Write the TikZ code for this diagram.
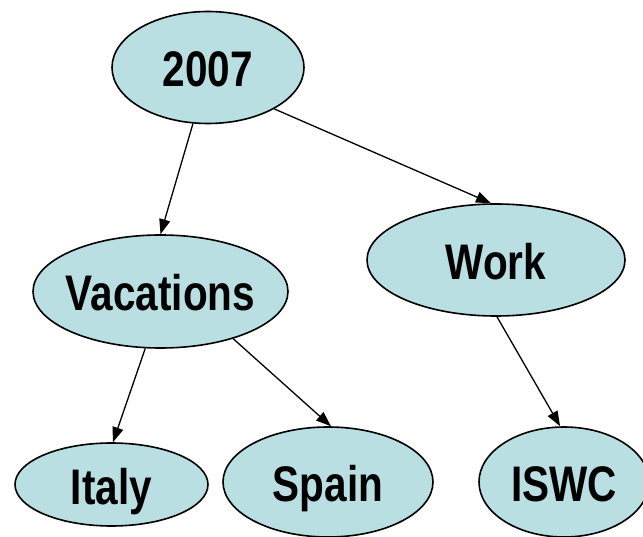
\documentclass[tikz,border=0pt]{standalone}
\usepackage{fontspec}
\setmainfont{Liberation Sans}[BoldFont={* Bold}, BoldFeatures={FakeStretch=0.81}]
\usetikzlibrary{shapes.geometric,arrows.meta}
\definecolor{topicfill}{RGB}{186,223,227}
% label set in a zero-width box so the ellipse keeps its given size
\newcommand{\toptext}[1]{\makebox[0pt]{#1}}
\tikzset{
  topic/.style={ellipse, draw=black, line width=1.6pt, fill=topicfill,
    inner sep=0pt, text height=39pt, text depth=0pt,
    font=\fontsize{50}{58}\selectfont\bfseries},
  link/.style={line width=1.3pt, -{Triangle[length=15pt,width=11pt]}}
}
\begin{document}
\begin{tikzpicture}[x=1pt,y=-1pt]
  \useasboundingbox (0,0) rectangle (643,537);
  % category tree
  \node[topic, minimum width=192pt, minimum height=112pt] (y2007) at (208,67.5) {\toptext{2007}};
  \node[topic, minimum width=255pt, minimum height=113pt] (vac) at (160.5,291.5) {\toptext{Vacations}};
  \node[topic, minimum width=258pt, minimum height=112pt] (work) at (496,260) {\toptext{Work}};
  \node[topic, minimum width=193pt, minimum height=83pt] (italy) at (111.5,484.5) {\toptext{Italy}};
  \node[topic, minimum width=210pt, minimum height=110pt] (spain) at (328,482) {\toptext{Spain}};
  \node[topic, minimum width=170pt, minimum height=110pt] (iswc) at (564,482) {\toptext{ISWC}};
  % parent -> child links
  \draw[link] (y2007.-105) -- (vac.90);
  \draw[link] (y2007.-32) -- (work.95);
  \draw[link] (vac.-105) -- (italy.88);
  \draw[link] (vac.-33) -- (spain.87);
  \draw[link] (work.-89) -- (iswc.94);
\end{tikzpicture}
\end{document}
